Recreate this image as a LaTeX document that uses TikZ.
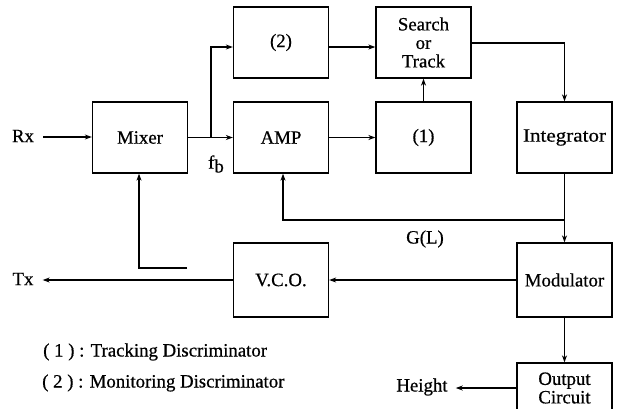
\documentclass[tikz,border=0pt]{standalone}
\usepackage{fontspec}
\setmainfont{Liberation Serif}[FakeBold=0.6]
\usetikzlibrary{arrows.meta}
\begin{document}
\begin{tikzpicture}[x=1pt,y=-1pt,
  every node/.style={font=\fontsize{18.8}{18.5}\selectfont, inner sep=0pt},
  blk/.style={draw, line width=1.3pt, minimum width=95pt, minimum height=71pt, align=center},
  wire/.style={line width=1.3pt},
  arr/.style={wire, -{Stealth[length=7pt,width=5pt]}},
  lbl/.style={}]
\useasboundingbox (0,0) rectangle (619,408);

% blocks
\node[blk] (mix) at (140,137.5) {Mixer};
\node[blk] (dis2) at (281,42.5) {(2)};
\node[blk] (amp) at (281,137.5) {AMP};
\node[blk] (srch) at (423.5,42.5) {Search\\or\\Track};
\node[blk] (dis1) at (423.5,137.5) {(1)};
\node[blk] (intg) at (564.5,137.5) {\scalebox{1.12}[1]{Integrator}};
\node[blk, minimum height=74pt] (mod) at (564.5,280) {Modulator};
\node[blk, minimum height=74pt] (vco) at (281,280) {V.C.O.};
\node[blk, minimum height=50pt] (out) at (564.5,388) {Output\\Circuit};

% terminal labels
\node[lbl] (rx) at (23,136) {Rx};
\node[lbl] (tx) at (23,279) {Tx};
\node[lbl] (hgt) at (422,387) {Height};
\node[lbl] (fb) at (216,164) {f\raisebox{-0.45ex}{b}};
\node[lbl] (gl) at (425,239) {G(L)};

% auxiliary points
\coordinate (split) at (211,137.5);
\coordinate (gsplit) at (564.5,220);
\coordinate (fbk) at (187,268);

% signal path
\draw[arr] (rx.east) ++(9,1) coordinate (rxe) -- (mix.west |- rxe);
\draw[arr] (mix.east) -- (amp.west);
\draw[arr] (split) |- (dis2.west |- 0,47) ;
\draw[arr] (dis2.east |- 0,47) -- (srch.west |- 0,47);
\draw[arr] (amp.east) -- (dis1.west);
\draw[arr] (dis1.north) -- (srch.south);
\draw[arr] (srch.east |- 0,43) -| (intg.north);
\draw[arr] (intg.south) -- (mod.north);
\draw[arr] (gsplit) -| ([xshift=2pt]amp.south);
\draw[arr] (mod.west) -- (vco.east);
\draw[arr] (vco.west) -- ([xshift=9pt]tx.east |- vco.west);
\draw[arr] (fbk) -| ([xshift=-1pt]mix.south);
\draw[arr] (mod.south) -- (out.north);
\draw[arr] (out.west |- 0,388) -- ([xshift=8pt]hgt.east |- 0,388);

% legend
\node[lbl, anchor=west] (leg1) at (43,352) {( 1 ) : Tracking Discriminator};
\node[lbl, anchor=west] (leg2) at (42,383) {( 2 ) : Monitoring Discriminator};
\end{tikzpicture}
\end{document}
